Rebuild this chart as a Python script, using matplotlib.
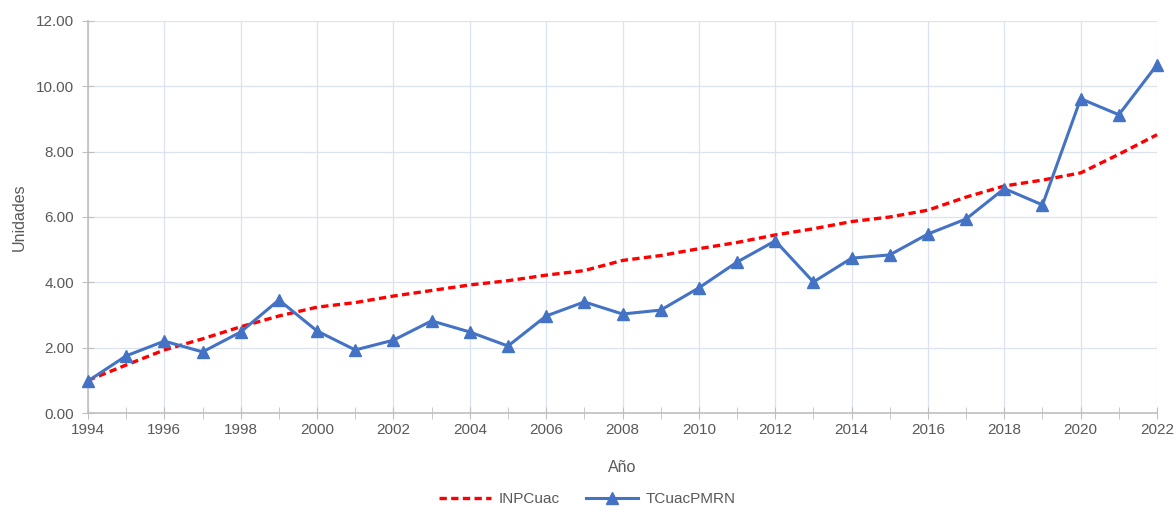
import numpy as np
import matplotlib
matplotlib.use("Agg")
import matplotlib.pyplot as plt
from matplotlib.ticker import MultipleLocator, FormatStrFormatter

plt.rcParams['font.family'] = ['Liberation Sans', 'DejaVu Sans']

# datos
anios = list(range(1994, 2023))
inpcuac = [1.00, 1.47, 1.93, 2.27, 2.64, 2.97, 3.24, 3.38, 3.58, 3.75, 3.92,
           4.05, 4.22, 4.36, 4.67, 4.82, 5.03, 5.22, 5.45, 5.64, 5.86, 6.00,
           6.21, 6.61, 6.95, 7.13, 7.35, 7.92, 8.52]
tcuac = [0.98, 1.75, 2.20, 1.87, 2.48, 3.46, 2.51, 1.93, 2.23, 2.82, 2.48,
         2.05, 2.97, 3.40, 3.03, 3.15, 3.83, 4.62, 5.27, 4.01, 4.74, 4.84,
         5.48, 5.94, 6.87, 6.37, 9.62, 9.13, 10.66]

gris = '#595959'

fig = plt.figure(figsize=(11.75, 5.07), dpi=100)
ax = fig.add_axes([0.0749, 0.1854, 0.9098, 0.7732])

ax.plot(anios, inpcuac, color='#FF0000', lw=2.4, ls=(0, (2.2, 1.3)),
        label='INPCuac', zorder=3, clip_on=False)
ax.plot(anios, tcuac, color='#4472C4', lw=2.2, marker='^', ms=8,
        label='TCuacPMRN', zorder=4, clip_on=False)

ax.set_xlim(1994, 2022)
ax.set_ylim(0, 12)
ax.xaxis.set_major_locator(MultipleLocator(2))
ax.xaxis.set_minor_locator(MultipleLocator(1))
ax.yaxis.set_major_locator(MultipleLocator(2))
ax.yaxis.set_major_formatter(FormatStrFormatter('%.2f'))

ax.grid(True, which='major', color='#DCE3F0', lw=0.9)
ax.set_axisbelow(True)

for s in ['top', 'right']:
    ax.spines[s].set_visible(False)
for s in ['left', 'bottom']:
    ax.spines[s].set_color('#BFBFBF')
    ax.spines[s].set_linewidth(1.2)

ax.tick_params(axis='x', which='both', direction='inout', length=8,
               color='#BFBFBF', labelsize=11, labelcolor=gris, pad=3)
ax.tick_params(axis='y', which='major', direction='inout', length=8,
               color='#BFBFBF', labelsize=11, labelcolor=gris, pad=6)

ax.set_xlabel('Año', fontsize=11.5, color=gris, labelpad=17)
ax.set_ylabel('Unidades', fontsize=11.5, color=gris, labelpad=7)

# leyenda centrada en la figura
fig.legend(*ax.get_legend_handles_labels(), loc='center',
           bbox_to_anchor=(0.5, 8 / 507), ncol=2, frameon=False,
           fontsize=11, handlelength=3.4, handletextpad=0.5,
           columnspacing=1.7, labelcolor=gris)

fig.savefig('out.png', dpi=100)
